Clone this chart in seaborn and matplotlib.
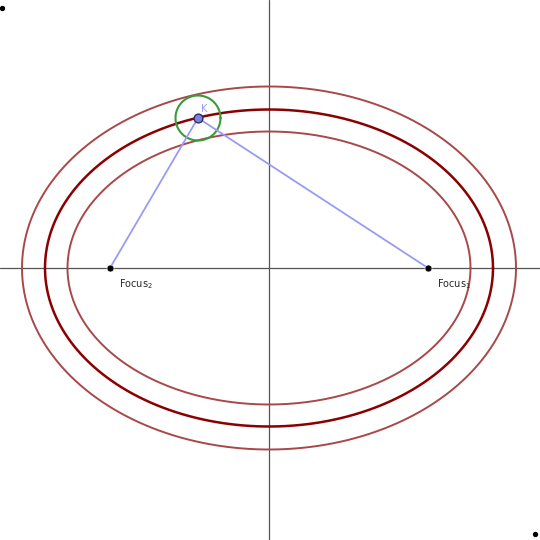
import numpy as np
import pandas as pd
import seaborn as sns
import matplotlib.pyplot as plt

# ellipse semi-axes (a, b) and colours
ellipse_a = [247, 224, 201.5]
ellipse_b = [181.5, 158.5, 136.5]
ellipse_colors = ['#a84848', '#8b0000', '#a84848']
ellipse_widths = [1.4, 1.8, 1.4]
focus_x = [159, -159]
focus_labels = ['Focus$_1$', 'Focus$_2$']
k_point = (-71, 150)
k_radius = 22.5

sns.set_style('white')
fig = plt.figure(figsize=(5.4, 5.4), dpi=100)
ax = fig.add_axes([0, 0, 1, 1])
ax.set_xlim(-269, 271)
ax.set_ylim(-272, 268)
ax.set_aspect('equal')
ax.axis('off')

ax.axhline(0, color='#555555', lw=0.9)
ax.axvline(0, color='#555555', lw=0.9)

t = np.linspace(0, 2 * np.pi, 400)
for a, b, c, w in zip(ellipse_a, ellipse_b, ellipse_colors, ellipse_widths):
    df = pd.DataFrame({'x': a * np.cos(t), 'y': b * np.sin(t)})
    sns.lineplot(data=df, x='x', y='y', sort=False, estimator=None, color=c, lw=w, ax=ax)

circ = pd.DataFrame({'x': k_point[0] + k_radius * np.cos(t), 'y': k_point[1] + k_radius * np.sin(t)})
sns.lineplot(data=circ, x='x', y='y', sort=False, estimator=None, color='#3a9a3a', lw=1.5, ax=ax)

for fx in focus_x:
    ax.plot([fx, k_point[0]], [0, k_point[1]], color='#9a9af5', lw=1.3)

sns.scatterplot(x=focus_x, y=[0, 0], color='black', s=25, ax=ax, zorder=5)
ax.scatter([k_point[0]], [k_point[1]], color='#8080e0', edgecolor='#303060', s=40, zorder=6)
ax.text(k_point[0] + 3, k_point[1] + 6, 'K', color='#9a9af5', fontsize=7)
for fx, lab in zip(focus_x, focus_labels):
    ax.text(fx + 9, -16, lab, fontsize=7, va='center')

# corner dots
ax.scatter([-267, 266], [260, -266], color='black', s=8, zorder=5)
ax.set_xlabel('')
ax.set_ylabel('')

fig.savefig('out.png', dpi=100)
